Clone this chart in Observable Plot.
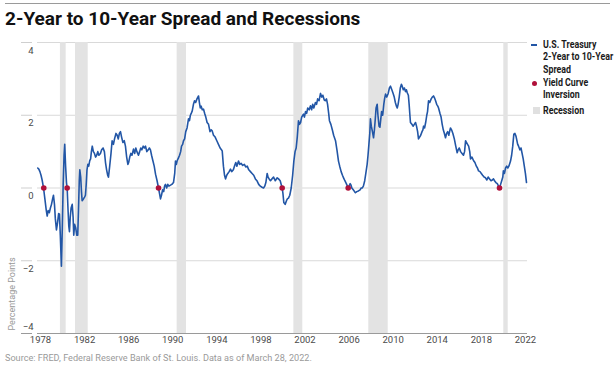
<!DOCTYPE html>
<html><head><meta charset="utf-8">
<script src="https://cdn.jsdelivr.net/npm/d3@7"></script>
<script src="https://cdn.jsdelivr.net/npm/@observablehq/plot@0.6"></script>
<style>
body{margin:0;background:#fff;font-family:Roboto,"Liberation Sans",sans-serif;}
#wrap{position:relative;width:616px;height:370px;overflow:hidden;background:#fff;}
#rule{position:absolute;left:5px;top:3px;width:605px;height:1px;background:#9a9a9a;}
#title{position:absolute;left:5px;top:7px;font-size:19px;font-weight:bold;color:#111;white-space:nowrap;}
#chart{position:absolute;left:0;top:32px;}
.lg{position:absolute;font-size:10.5px;font-weight:bold;color:#1b1b1b;line-height:12.7px;white-space:nowrap;transform:scaleX(0.84);transform-origin:0 0;}
.sw{position:absolute;}
#caption{position:absolute;left:5px;top:352px;font-size:9.5px;color:#9a9a9a;white-space:nowrap;transform:scaleX(0.96);transform-origin:0 0;}
</style></head>
<body>
<div id="wrap">
  <div id="rule"></div>
  <div id="title">2-Year to 10-Year Spread and Recessions</div>
  <div id="chart"></div>
  <div class="sw" style="left:531px;top:44px;width:6px;height:2px;background:#2256a6"></div>
  <div class="lg" style="left:543px;top:38.5px">U.S. Treasury<br>2-Year to 10-Year<br>Spread</div>
  <div class="sw" style="left:532px;top:80.5px;width:5px;height:5px;border-radius:50%;background:#b0103a"></div>
  <div class="lg" style="left:543px;top:76.5px">Yield Curve<br>Inversion</div>
  <div class="sw" style="left:533px;top:107px;width:7px;height:7px;background:#e0e0e0"></div>
  <div class="lg" style="left:543px;top:104.5px">Recession</div>
  <div id="caption">Source: FRED, Federal Reserve Bank of St. Louis. Data as of March 28, 2022.</div>
</div>
<script>
const spreadYear = [1977.75,1977.85,1977.95,1978.05,1978.15,1978.27,1978.4,1978.52,1978.61,1978.7,1978.8,1978.9,1979.0,1979.1,1979.18,1979.27,1979.35,1979.45,1979.55,1979.65,1979.72,1979.8,1979.9,1979.98,1980.06,1980.14,1980.2,1980.28,1980.36,1980.42,1980.5,1980.57,1980.63,1980.7,1980.78,1980.88,1980.96,1981.02,1981.1,1981.2,1981.3,1981.38,1981.45,1981.52,1981.57,1981.65,1981.72,1981.78,1981.9,1982.0,1982.08,1982.15,1982.22,1982.3,1982.38,1982.47,1982.55,1982.62,1982.7,1982.8,1982.9,1983.0,1983.1,1983.2,1983.3,1983.44,1983.55,1983.68,1983.8,1983.9,1984.0,1984.1,1984.17,1984.28,1984.4,1984.5,1984.62,1984.72,1984.85,1984.96,1985.06,1985.16,1985.26,1985.36,1985.48,1985.6,1985.71,1985.82,1985.93,1986.0,1986.1,1986.2,1986.3,1986.44,1986.55,1986.65,1986.75,1986.89,1987.0,1987.1,1987.2,1987.32,1987.43,1987.53,1987.65,1987.78,1987.88,1987.98,1988.08,1988.2,1988.32,1988.44,1988.58,1988.71,1988.8,1988.89,1988.98,1989.08,1989.18,1989.26,1989.34,1989.45,1989.55,1989.65,1989.8,1989.92,1990.07,1990.18,1990.25,1990.33,1990.4,1990.52,1990.62,1990.72,1990.8,1990.9,1990.98,1991.08,1991.18,1991.3,1991.43,1991.52,1991.6,1991.68,1991.77,1991.88,1991.98,1992.08,1992.2,1992.28,1992.34,1992.42,1992.5,1992.58,1992.68,1992.79,1992.9,1993.0,1993.12,1993.25,1993.38,1993.48,1993.58,1993.7,1993.85,1994.0,1994.15,1994.3,1994.42,1994.49,1994.6,1994.7,1994.79,1994.9,1995.0,1995.12,1995.24,1995.35,1995.5,1995.62,1995.72,1995.82,1995.97,1996.08,1996.2,1996.35,1996.5,1996.62,1996.76,1996.9,1997.05,1997.2,1997.35,1997.5,1997.66,1997.8,1997.95,1998.1,1998.24,1998.35,1998.45,1998.57,1998.65,1998.75,1998.87,1999.0,1999.15,1999.3,1999.48,1999.6,1999.75,1999.93,2000.0,2000.08,2000.2,2000.32,2000.4,2000.5,2000.62,2000.75,2000.88,2000.99,2001.1,2001.2,2001.3,2001.41,2001.5,2001.6,2001.7,2001.8,2001.87,2001.95,2002.05,2002.15,2002.25,2002.38,2002.5,2002.6,2002.7,2002.8,2002.95,2003.05,2003.15,2003.28,2003.41,2003.52,2003.62,2003.75,2003.86,2003.95,2004.05,2004.15,2004.22,2004.35,2004.48,2004.6,2004.77,2004.9,2005.04,2005.15,2005.28,2005.4,2005.5,2005.62,2005.75,2005.85,2005.92,2006.0,2006.1,2006.18,2006.25,2006.38,2006.5,2006.58,2006.7,2006.85,2007.0,2007.1,2007.19,2007.3,2007.42,2007.52,2007.64,2007.72,2007.8,2007.88,2007.94,2008.02,2008.12,2008.22,2008.3,2008.38,2008.45,2008.55,2008.62,2008.72,2008.8,2008.88,2008.95,2009.05,2009.15,2009.22,2009.31,2009.42,2009.55,2009.66,2009.76,2009.88,2010.0,2010.1,2010.2,2010.3,2010.37,2010.45,2010.55,2010.65,2010.75,2010.82,2010.92,2011.02,2011.12,2011.2,2011.28,2011.38,2011.45,2011.52,2011.57,2011.7,2011.82,2011.92,2012.03,2012.12,2012.22,2012.3,2012.4,2012.5,2012.62,2012.7,2012.76,2012.85,2012.95,2013.05,2013.12,2013.21,2013.32,2013.45,2013.55,2013.66,2013.75,2013.85,2013.95,2014.05,2014.12,2014.25,2014.35,2014.45,2014.55,2014.65,2014.75,2014.85,2014.95,2015.05,2015.12,2015.2,2015.3,2015.42,2015.55,2015.68,2015.81,2015.9,2016.0,2016.12,2016.25,2016.38,2016.48,2016.57,2016.65,2016.75,2016.85,2016.95,2017.02,2017.15,2017.3,2017.42,2017.55,2017.65,2017.75,2017.88,2018.0,2018.12,2018.25,2018.38,2018.5,2018.62,2018.75,2018.88,2019.0,2019.1,2019.2,2019.32,2019.45,2019.56,2019.65,2019.75,2019.85,2019.95,2020.0,2020.1,2020.2,2020.3,2020.4,2020.5,2020.65,2020.75,2020.85,2020.95,2021.05,2021.15,2021.3,2021.38,2021.5,2021.6,2021.7,2021.8,2021.9,2022.0,2022.1];
const spreadValue = [0.55,0.52,0.45,0.35,0.22,0.02,-0.3,-0.6,-0.77,-0.62,-0.68,-0.55,-0.45,-0.3,-0.2,-0.45,-0.85,-1.15,-0.95,-0.7,-0.72,-1.3,-2.15,-1.1,0.1,0.9,1.2,0.6,0.15,0.0,-0.6,-1.05,-1.2,-0.8,-0.55,-0.45,-0.8,-1.3,-1.0,-1.1,-1.3,-1.3,-0.6,0.2,0.5,0.3,-0.1,-0.35,-0.3,-0.25,-0.2,0.1,0.5,0.65,0.6,0.75,0.8,1.0,1.15,1.0,0.95,0.85,0.9,1.0,0.9,0.95,1.05,1.1,1.0,0.7,0.5,0.35,0.3,0.6,0.95,1.3,1.2,1.35,1.5,1.45,1.35,1.5,1.55,1.4,1.25,1.3,1.15,0.85,0.65,0.7,0.85,0.95,0.9,1.07,0.95,1.1,1.0,0.9,1.0,1.1,1.05,1.15,1.1,1.15,1.0,1.05,1.1,1.05,0.9,0.75,0.6,0.38,0.2,0.0,-0.15,-0.3,-0.2,-0.05,-0.1,0.05,0.1,0.0,0.1,0.05,0.08,0.1,0.15,0.4,0.74,0.65,0.75,0.83,0.9,1.0,1.15,1.2,1.3,1.35,1.55,1.65,1.9,1.85,2.0,2.05,2.12,2.3,2.4,2.35,2.45,2.5,2.53,2.35,2.2,2.25,2.15,2.17,2.05,1.95,1.8,1.75,1.55,1.6,1.57,1.45,1.4,1.3,1.2,1.1,1.05,1.02,0.6,0.35,0.25,0.35,0.4,0.45,0.52,0.45,0.5,0.62,0.7,0.6,0.74,0.65,0.68,0.62,0.65,0.58,0.6,0.5,0.45,0.4,0.35,0.25,0.19,0.1,0.05,0.02,0.0,0.05,0.15,0.4,0.3,0.25,0.2,0.25,0.3,0.2,0.28,0.25,0.2,0.0,-0.15,-0.4,-0.45,-0.35,-0.3,-0.28,-0.2,0.0,0.35,0.74,1.0,1.1,1.4,1.85,1.75,1.8,1.95,2.0,2.03,1.95,2.1,2.05,2.2,2.15,2.26,2.15,2.3,2.2,2.35,2.3,2.45,2.4,2.6,2.5,2.55,2.42,2.4,2.45,2.3,2.05,1.85,1.75,1.6,1.45,1.3,1.05,0.74,0.6,0.45,0.35,0.28,0.2,0.12,0.05,0.0,0.05,0.12,0.08,0.0,-0.05,-0.1,-0.13,-0.1,-0.08,-0.05,0.0,0.0,0.05,0.2,0.4,0.65,0.9,1.2,1.5,1.9,1.7,1.55,1.38,1.6,1.9,2.2,2.3,2.0,1.7,1.67,1.9,2.1,2.0,2.3,2.45,2.58,2.5,2.6,2.75,2.8,2.7,2.6,2.5,2.35,2.25,2.2,2.3,2.5,2.75,2.85,2.8,2.7,2.75,2.65,2.7,2.62,2.55,2.3,2.0,1.8,1.75,1.7,1.75,1.8,1.7,1.55,1.35,1.4,1.45,1.55,1.6,1.7,1.65,1.8,2.0,2.1,2.4,2.35,2.45,2.5,2.53,2.48,2.4,2.3,2.25,2.2,2.05,1.95,1.75,1.6,1.5,1.38,1.5,1.55,1.45,1.55,1.65,1.6,1.5,1.35,1.15,0.97,1.05,1.1,1.0,0.95,0.9,1.0,1.3,1.25,1.2,1.15,1.0,0.8,0.85,0.75,0.7,0.6,0.55,0.47,0.45,0.4,0.35,0.3,0.28,0.22,0.3,0.25,0.2,0.22,0.25,0.2,0.15,0.12,0.05,0.0,0.1,0.2,0.3,0.47,0.4,0.55,0.6,0.55,0.6,0.74,0.9,1.15,1.48,1.5,1.42,1.2,1.15,1.05,1.1,0.95,0.8,0.6,0.4,0.15];
const inversionYear = [1978.3, 1980.42, 1988.71, 1999.93, 2005.92, 2019.65];
const recessionStart = [1979.81, 1981.18, 1990.4, 2000.99, 2007.79, 2020.04];
const recessionEnd = [1980.33, 1982.33, 1991.25, 2001.8, 2009.55, 2020.44];
const xTicks = [1978, 1982, 1986, 1990, 1994, 1998, 2002, 2006, 2010, 2014, 2018, 2022];
const yTicks = [-4, -2, 0, 2, 4];
const yLabel = "Percentage Points";

const spread = spreadYear.map((x, i) => ({x, y: spreadValue[i]}));
const recessions = recessionStart.map((s, i) => ({x1: s, x2: recessionEnd[i]}));
const inversions = inversionYear.map(x => ({x, y: 0}));
const font = 'Roboto,"Liberation Sans",sans-serif';

const chart = Plot.plot({
  width: 616, height: 319,
  marginLeft: 37, marginRight: 89, marginTop: 10, marginBottom: 18,
  style: {fontFamily: font, fontSize: "9.5px", color: "#4a4a4a", background: "transparent", overflow: "visible"},
  x: {domain: [1977.73, 2022.19], axis: null, label: null},
  y: {domain: [-4, 4], axis: null, label: null},
  marks: [
    Plot.ruleY(yTicks.filter(d => d > -4), {stroke: "#d9d9d9", strokeWidth: 1}),
    Plot.rect(recessions, {x1: "x1", x2: "x2", y1: -4, y2: 4, fill: "#e3e3e3"}),
    Plot.ruleY([-4], {stroke: "#9a9a9a", strokeWidth: 1}),
    Plot.axisY(yTicks.filter(d => d > -4), {tickSize: 11, dx: -5, tickFormat: () => "", stroke: "#cfcfcf", label: null}),
    Plot.axisY([-4], {tickSize: 11, dx: -5, tickFormat: () => "", stroke: "#9a9a9a", label: null}),
    Plot.axisY(yTicks.filter(d => d > -4), {tickSize: 0, tickPadding: 4, dy: 8, fill: "#4a4a4a", fontSize: 9.5, label: null}),
    Plot.axisY([-4], {tickSize: 0, tickPadding: 4, dy: -7, fill: "#4a4a4a", fontSize: 9.5, label: null}),
    Plot.axisX(xTicks, {tickSize: 0, tickPadding: 3, tickFormat: d => String(d), fill: "#4a4a4a", fontSize: 9.5, label: null}),
    Plot.text([yLabel], {text: d => d, frameAnchor: "bottom-left", rotate: -90, textAnchor: "start", dx: -23, dy: -3, fill: "#999", fontSize: 9}),
    Plot.line(spread, {x: "x", y: "y", stroke: "#2256a6", strokeWidth: 1.6}),
    Plot.dot(inversions, {x: "x", y: "y", r: 2.8, fill: "#b0103a", stroke: "none"})
  ]
});
document.getElementById("chart").appendChild(chart);
</script>
</body></html>
